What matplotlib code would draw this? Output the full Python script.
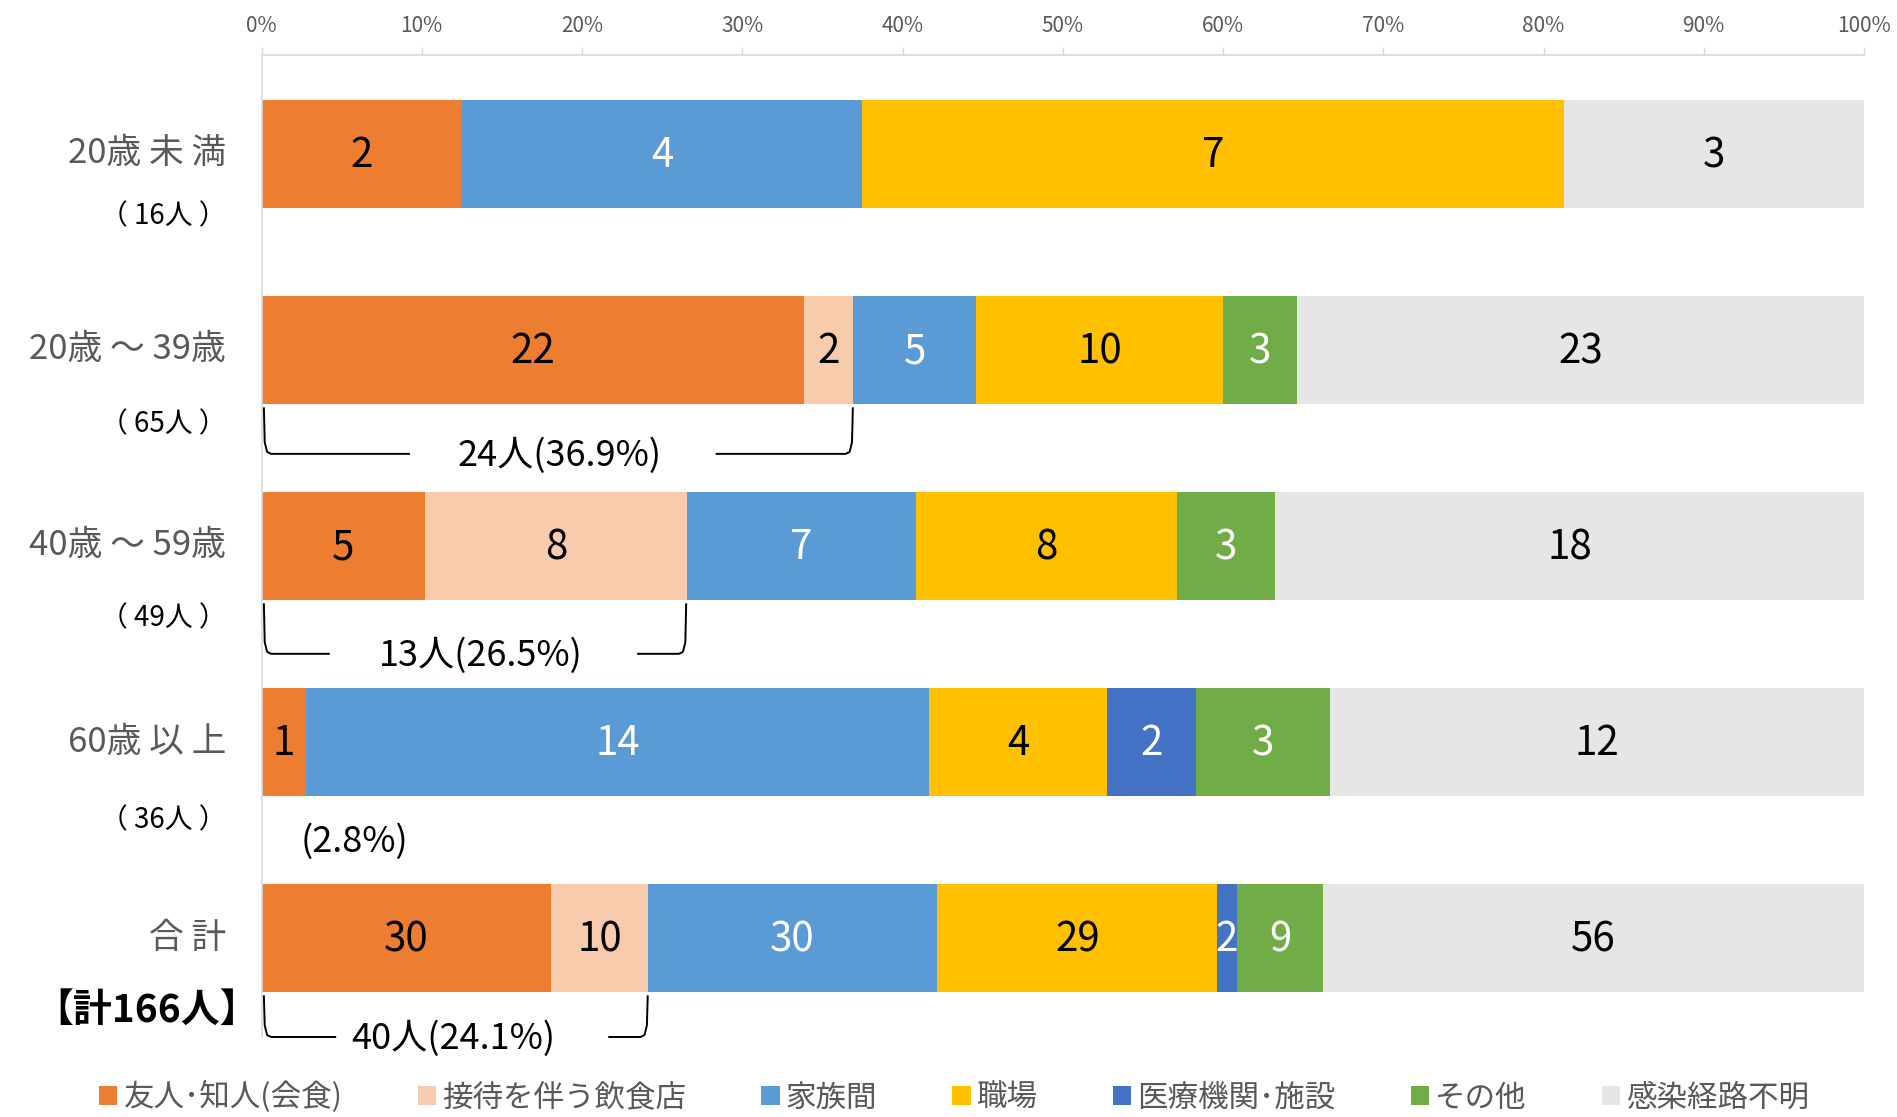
import matplotlib
matplotlib.use("Agg")
import matplotlib.pyplot as plt
from matplotlib.patches import Patch
from matplotlib.transforms import blended_transform_factory
import numpy as np

plt.rcParams['font.family'] = ['Noto Sans CJK JP', 'DejaVu Sans']

# ---- data ----
categories = ["20歳 未 満", "20歳 ～ 39歳", "40歳 ～ 59歳", "60歳 以 上", "合 計"]
sublabels = ["（ 16人 ）", "（ 65人 ）", "（ 49人 ）", "（ 36人 ）", "【計166人】"]
series_names = ["友人･知人(会食)", "接待を伴う飲食店", "家族間", "職場", "医療機関･施設", "その他", "感染経路不明"]
friends   = [2, 22, 5, 1, 30]
hosting   = [0, 2, 8, 0, 10]
family    = [4, 5, 7, 14, 30]
workplace = [7, 10, 8, 4, 29]
medical   = [0, 0, 0, 2, 2]
other     = [0, 3, 3, 3, 9]
unknown   = [3, 23, 18, 12, 56]
xticks = [0, 10, 20, 30, 40, 50, 60, 70, 80, 90, 100]
# bracket annotations: row index, end percentage, label
bracket_rows   = [1, 2, 4]
bracket_ends   = [36.9, 26.5, 24.1]
bracket_labels = ["24人(36.9%)", "13人(26.5%)", "40人(24.1%)"]
extra_row, extra_label = 3, "(2.8%)"

series = [friends, hosting, family, workplace, medical, other, unknown]
colors = ['#ED7D31', '#F8CBAD', '#5B9BD5', '#FFC000', '#4472C4', '#70AD47', '#E7E6E6']
txtcolors = ['black', 'black', 'white', 'black', 'white', 'white', 'black']

W, H = 1897, 1117
fig = plt.figure(figsize=(W / 100, H / 100), dpi=100)
ax = fig.add_axes([261.5 / W, 1 - 1037 / H, (1864 - 261.5) / W, (1037 - 55) / H])

data = np.array(series, dtype=float)
totals = data.sum(axis=0)
pct = data / totals * 100
y = np.arange(len(categories))
left = np.zeros(len(categories))
bh = 0.555
for i in range(len(series)):
    ax.barh(y, pct[i], left=left, height=bh, color=colors[i], edgecolor='none', zorder=2)
    for j in range(len(categories)):
        if data[i, j] > 0:
            ax.text(left[j] + pct[i, j] / 2, y[j] + 0.01, f"{int(data[i, j])}", ha='center', va='center',
                    fontsize=29, color=txtcolors[i], zorder=3)
    left += pct[i]

ax.set_xlim(0, 100)
ax.set_ylim(len(categories) - 0.495, -0.505)
ax.xaxis.tick_top()
ax.set_xticks(xticks)
ax.set_xticklabels([f"{t}%" for t in xticks], fontsize=15, color='#595959')
ax.tick_params(axis='x', length=6, width=1, color='#D9D9D9', pad=7)
ax.set_yticks([])
for s in ['right', 'bottom']:
    ax.spines[s].set_visible(False)
ax.spines['top'].set_color('#D9D9D9')
ax.spines['top'].set_linewidth(1.2)
ax.spines['left'].set_color('#D9D9D9')
ax.spines['left'].set_linewidth(1.2)

trans = blended_transform_factory(ax.transAxes, ax.transData)
sub_off = [0.32, 0.38, 0.37, 0.40, 0.37]
for j, (c, s) in enumerate(zip(categories, sublabels)):
    ax.text(-0.022, y[j], c, transform=trans, ha='right', va='center', fontsize=25, color='#595959')
    if j == len(categories) - 1:
        ax.text(-0.0717, y[j] + sub_off[j], s, transform=trans, ha='center', va='center',
                fontsize=28, color='black', fontweight='bold')
    else:
        ax.text(-0.0615, y[j] + sub_off[j], s, transform=trans, ha='center', va='center',
                fontsize=20, color='black')

# brackets
br_bottom = [0.53, 0.55, 0.505]
lgap = [9.2, 4.2, 4.6]
rgap = [28.4, 23.5, 21.7]
txt_x = [18.6, 13.7, 12.0]
for k, r in enumerate(bracket_rows):
    top = y[r] + bh / 2 + 0.02
    bot = y[r] + br_bottom[k]
    e = bracket_ends[k]
    ax.plot([0.15, 0.2, 0.35, 0.6, lgap[k]], [top, bot - 0.06, bot - 0.01, bot, bot],
            color='black', lw=1.4, zorder=3, clip_on=False)
    ax.plot([rgap[k], e - 0.45, e - 0.2, e - 0.05, e], [bot, bot, bot - 0.01, bot - 0.06, top],
            color='black', lw=1.4, zorder=3, clip_on=False)
    ax.text(txt_x[k], bot + 0.01, bracket_labels[k], ha='center', va='center', fontsize=26, color='black')
ax.text(5.8, y[extra_row] + 0.51, extra_label, ha='center', va='center', fontsize=26, color='black')

handles = [Patch(facecolor=c, edgecolor='none') for c in colors]
fig.legend(handles, series_names, loc='center', bbox_to_anchor=(0.503, 0.0175), ncol=7,
           frameon=False, fontsize=22, handlelength=0.6, handleheight=0.6, handletextpad=0.2,
           columnspacing=2.46, labelcolor='#595959', borderaxespad=0, borderpad=0)

fig.savefig("out.png", dpi=100)
